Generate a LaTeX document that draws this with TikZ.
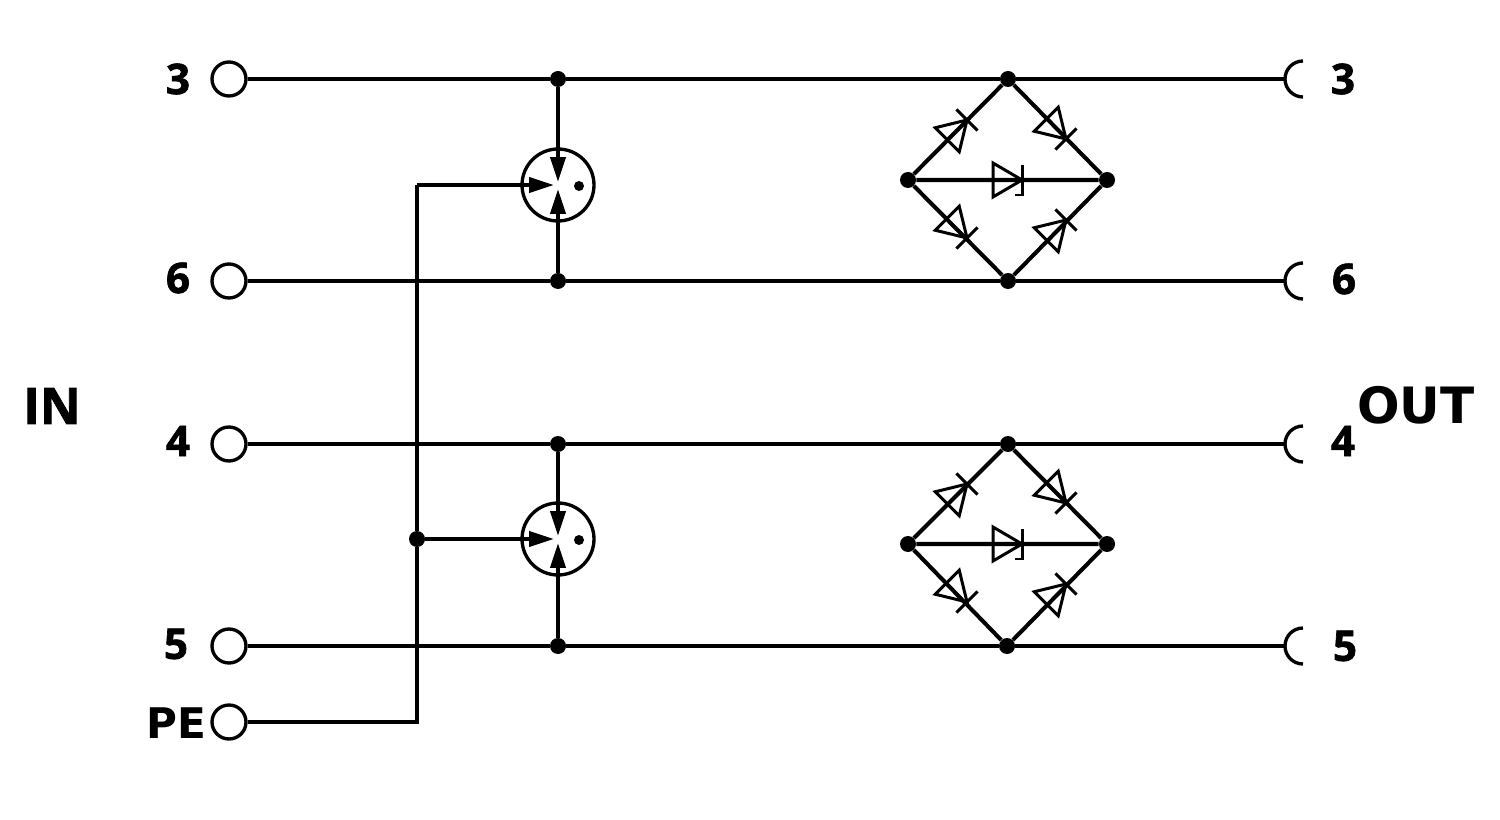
\documentclass[tikz,border=0pt]{standalone}
\usepackage{fontspec}
\setmainfont[BoldFeatures={FakeBold=1.6}]{Open Sans}
\newfontfamily\widefont{DejaVu Sans}
\usetikzlibrary{arrows.meta}

\tikzset{
  wire/.style={line width=2.3pt},
  gas/.style={wire, -{Triangle[length=0.5cm,width=0.3cm]}},
  dot/.style={circle, fill=black, inner sep=0pt, minimum size=0.32cm},
  smalldot/.style={circle, fill=black, inner sep=0pt, minimum size=0.2cm},
  interm/.style={circle, draw, line width=1.9pt, inner sep=0pt, minimum size=0.68cm},
  arrester/.style={circle, draw, line width=1.9pt, inner sep=0pt, minimum size=1.44cm},
  pinlabel/.style={font=\fontsize{24}{24}\bfseries\selectfont},
  sidelabel/.style={font=\fontsize{28.5}{28.5}\bfseries\selectfont},
  diode/.pic={
    \draw[line width=1.7pt, line join=miter] (-28,-17) -- (0,0) -- (-28,17) -- cycle;
    \draw[line width=1.7pt] (0,-15) -- (0,15);
  },
  zener/.pic={
    \draw[line width=1.7pt, line join=miter] (-29,-17) -- (0,0) -- (-29,17) -- cycle;
    \draw[line width=1.7pt] (0,-15) -- (0,15) -- (-7,15);
  }
}

\begin{document}
\begin{tikzpicture}[x=0.02cm,y=-0.02cm]
\useasboundingbox (0,0) rectangle (1500,820);

% inputs
\foreach \n/\y/\lx/\ly in {3/79/178/79, 6/281/178/278, 4/444/178/441, 5/646/176/644}{
  \node[interm] (in\n) at (229,\y) {};
  \node[pinlabel] (inlabel\n) at (\lx,\ly) {\n};
}
\node[interm] (inPE) at (229,722) {};
\node[anchor=east, inner sep=0pt, font=\fontsize{24}{24}\widefont\bfseries] (inlabelPE) at (207,723) {PE};

% outputs
\foreach \n/\y/\lx/\ly in {3/79/1343/79, 6/281/1344/279, 4/444/1343/441, 5/646/1345/646}{
  \coordinate (out\n) at (1285,\y);
  \draw[line width=1.9pt] (1303,\y+18) arc[start angle=90, end angle=270, radius=18];
  \node[pinlabel] (outlabel\n) at (\lx,\ly) {\n};
}

\node[sidelabel] (inlabel) at (52,406) {IN};
\node[font=\fontsize{28.5}{28.5}\widefont\bfseries] (outlabel) at (1416,405) {OUT};

% junctions on the lines
\node[dot] (j3) at (558,79) {};
\node[dot] (j6) at (558,281) {};
\node[dot] (j4) at (558,444) {};
\node[dot] (j5) at (558,646) {};
\node[dot] (k3) at (1008,79) {};
\node[dot] (k6) at (1008,281) {};
\node[dot] (k4) at (1008,444) {};
\node[dot] (k5) at (1007,646) {};

\draw[wire] (in3) -- (j3) -- (k3) -- (out3);
\draw[wire] (in6) -- (j6) -- (k6) -- (out6);
\draw[wire] (in4) -- (j4) -- (k4) -- (out4);
\draw[wire] (in5) -- (j5) -- (k5) -- (out5);

% arresters
\foreach \a/\y/\top/\bot in {a/185/j3/j6, b/539/j4/j5}{
  \node[arrester] (\a) at (558,\y) {};
  \node[smalldot] (\a dot) at (579,\y+1) {};
  \coordinate (\a top) at (558,\y-3);
  \coordinate (\a bot) at (558,\y+4);
  \coordinate (\a left) at (554,\y);
  \draw[gas] (\top) -- (\a top);
  \draw[gas] (\bot) -- (\a bot);
}

% PE
\node[dot] (jpe) at (417,539) {};
\coordinate (pecorner) at (417,722);
\coordinate (petop) at (417,185);
\draw[wire] (inPE) -- (pecorner) -- (jpe) -- (petop);
\draw[gas] (petop) -- (aleft);
\draw[gas] (jpe) -- (bleft);

% bridges
\foreach \b/\y/\top/\bot in {u/0/k3/k6, v/364/k4/k5}{
  \node[dot] (\b l) at (908,180+\y) {};
  \node[dot] (\b r) at (1107,180+\y) {};
  \draw[wire] (\b l) -- (\top) -- (\b r) -- (\bot) -- (\b l) -- (\b r);
  \pic[rotate=45] at (967,120+\y) {diode};
  \pic[rotate=-45] at (1066,139+\y) {diode};
  \pic[rotate=-45] at (967,238+\y) {diode};
  \pic[rotate=45] at (1066,220+\y) {diode};
  \pic at (1022,180+\y) {zener};
}

\end{tikzpicture}
\end{document}
